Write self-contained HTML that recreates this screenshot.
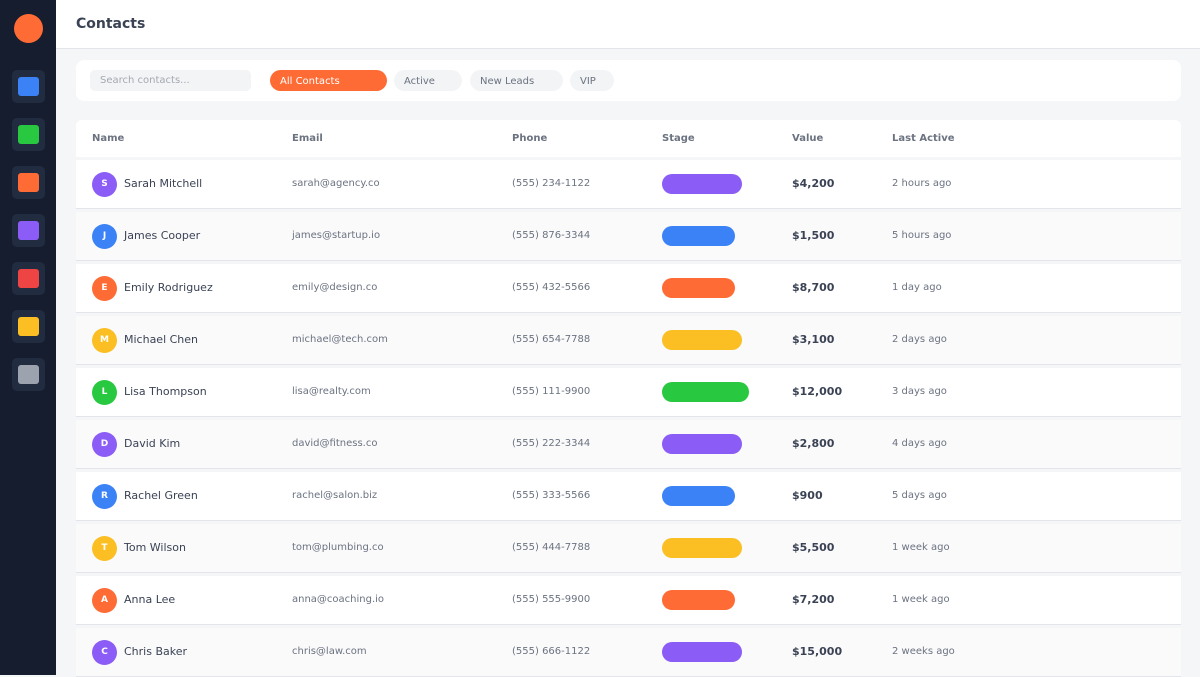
<!DOCTYPE html>
<html><head><style>
*{box-sizing:border-box;margin:0;padding:0}
body{width:1200px;height:675px;overflow:hidden;background:#f5f6f8;font-family:"DejaVu Sans","Liberation Sans",sans-serif;position:relative}
.side{position:absolute;left:0;top:0;width:56px;height:675px;background:#161d2e}
.logo{position:absolute;left:14px;top:14px;width:29px;height:29px;border-radius:50%;background:#ff6b35}
.ic{position:absolute;left:12px;width:33px;height:33px;background:#222c40;border-radius:5px}
.ic i{position:absolute;left:6px;top:7px;width:21px;height:19px;border-radius:3px}
.top{position:absolute;left:56px;top:0;width:1144px;height:49px;background:#fff;border-bottom:1px solid #e3e5ea}
.top h1{position:absolute;left:20px;top:16px;font-size:14px;font-weight:bold;color:#3a4254}
.fc{position:absolute;left:76px;top:60px;width:1105px;height:41px;background:#fff;border-radius:8px}
.search{position:absolute;left:14px;top:10px;width:161px;height:21px;background:#f3f4f6;border-radius:5px;font-size:10px;color:#a4a8b0;padding:5px 10px}
.pill{position:absolute;top:10px;height:21px;border-radius:11px;background:#f3f4f6;font-size:10px;color:#6b7280;padding:6px 10px;line-height:11px}
.th{position:absolute;left:76px;top:120px;width:1105px;height:37px;background:#fff;border-radius:6px 6px 0 0;font-size:10px;font-weight:bold;color:#6b7280}
.th span,.row span{position:absolute}
.row{position:absolute;left:76px;width:1105px;height:49px;border-bottom:1px solid #e3e5ea;background:#fff}
.row.alt{background:#fafafb}
.av{left:16px;top:12px;width:25px;height:25px;border-radius:50%;color:#fff;font-size:9px;font-weight:bold;text-align:center;line-height:24px}
.nm{left:48px;top:17px;font-size:11px;color:#3a4254}
.em{left:216px;top:17.5px;font-size:10px;color:#6b7280}
.ph{left:436px;top:17.5px;font-size:10px;color:#6b7280}
.st{left:586px;top:14px;height:20px;border-radius:10px}
.vl{left:716px;top:17px;font-size:11px;font-weight:bold;color:#3a4254}
.la{left:816px;top:17.5px;font-size:10px;color:#6b7280}
</style></head><body>
<div class="side"><div class="logo"></div>
<div class="ic" style="top:70px"><i style="background:#3b82f6"></i></div>
<div class="ic" style="top:118px"><i style="background:#28c840"></i></div>
<div class="ic" style="top:166px"><i style="background:#ff6b35"></i></div>
<div class="ic" style="top:214px"><i style="background:#8b5cf6"></i></div>
<div class="ic" style="top:262px"><i style="background:#ef4444"></i></div>
<div class="ic" style="top:310px"><i style="background:#fbbf24"></i></div>
<div class="ic" style="top:358px"><i style="background:#9ca3af"></i></div>
</div>
<div class="top"><h1>Contacts</h1></div>
<div class="fc"><div class="search">Search contacts...</div>
<div class="pill" style="left:194px;width:117px;background:#ff6b35;color:#fff">All Contacts</div>
<div class="pill" style="left:318px;width:68px">Active</div>
<div class="pill" style="left:394px;width:93px">New Leads</div>
<div class="pill" style="left:494px;width:44px">VIP</div>
</div>
<div class="th"><span style="left:16px;top:13px">Name</span><span style="left:216px;top:13px">Email</span><span style="left:436px;top:13px">Phone</span><span style="left:586px;top:13px">Stage</span><span style="left:716px;top:13px">Value</span><span style="left:816px;top:13px">Last Active</span></div>

<div class="row" style="top:160px"><span class="av" style="background:#8b5cf6">S</span><span class="nm">Sarah Mitchell</span><span class="em">sarah@agency.co</span><span class="ph">(555) 234-1122</span><span class="st" style="width:80px;background:#8b5cf6"></span><span class="vl">$4,200</span><span class="la">2 hours ago</span></div>
<div class="row alt" style="top:212px"><span class="av" style="background:#3b82f6">J</span><span class="nm">James Cooper</span><span class="em">james@startup.io</span><span class="ph">(555) 876-3344</span><span class="st" style="width:73px;background:#3b82f6"></span><span class="vl">$1,500</span><span class="la">5 hours ago</span></div>
<div class="row" style="top:264px"><span class="av" style="background:#ff6b35">E</span><span class="nm">Emily Rodriguez</span><span class="em">emily@design.co</span><span class="ph">(555) 432-5566</span><span class="st" style="width:73px;background:#ff6b35"></span><span class="vl">$8,700</span><span class="la">1 day ago</span></div>
<div class="row alt" style="top:316px"><span class="av" style="background:#fbbf24">M</span><span class="nm">Michael Chen</span><span class="em">michael@tech.com</span><span class="ph">(555) 654-7788</span><span class="st" style="width:80px;background:#fbbf24"></span><span class="vl">$3,100</span><span class="la">2 days ago</span></div>
<div class="row" style="top:368px"><span class="av" style="background:#28c840">L</span><span class="nm">Lisa Thompson</span><span class="em">lisa@realty.com</span><span class="ph">(555) 111-9900</span><span class="st" style="width:87px;background:#28c840"></span><span class="vl">$12,000</span><span class="la">3 days ago</span></div>
<div class="row alt" style="top:420px"><span class="av" style="background:#8b5cf6">D</span><span class="nm">David Kim</span><span class="em">david@fitness.co</span><span class="ph">(555) 222-3344</span><span class="st" style="width:80px;background:#8b5cf6"></span><span class="vl">$2,800</span><span class="la">4 days ago</span></div>
<div class="row" style="top:472px"><span class="av" style="background:#3b82f6">R</span><span class="nm">Rachel Green</span><span class="em">rachel@salon.biz</span><span class="ph">(555) 333-5566</span><span class="st" style="width:73px;background:#3b82f6"></span><span class="vl">$900</span><span class="la">5 days ago</span></div>
<div class="row alt" style="top:524px"><span class="av" style="background:#fbbf24">T</span><span class="nm">Tom Wilson</span><span class="em">tom@plumbing.co</span><span class="ph">(555) 444-7788</span><span class="st" style="width:80px;background:#fbbf24"></span><span class="vl">$5,500</span><span class="la">1 week ago</span></div>
<div class="row" style="top:576px"><span class="av" style="background:#ff6b35">A</span><span class="nm">Anna Lee</span><span class="em">anna@coaching.io</span><span class="ph">(555) 555-9900</span><span class="st" style="width:73px;background:#ff6b35"></span><span class="vl">$7,200</span><span class="la">1 week ago</span></div>
<div class="row alt" style="top:628px"><span class="av" style="background:#8b5cf6">C</span><span class="nm">Chris Baker</span><span class="em">chris@law.com</span><span class="ph">(555) 666-1122</span><span class="st" style="width:80px;background:#8b5cf6"></span><span class="vl">$15,000</span><span class="la">2 weeks ago</span></div>
</body></html>
